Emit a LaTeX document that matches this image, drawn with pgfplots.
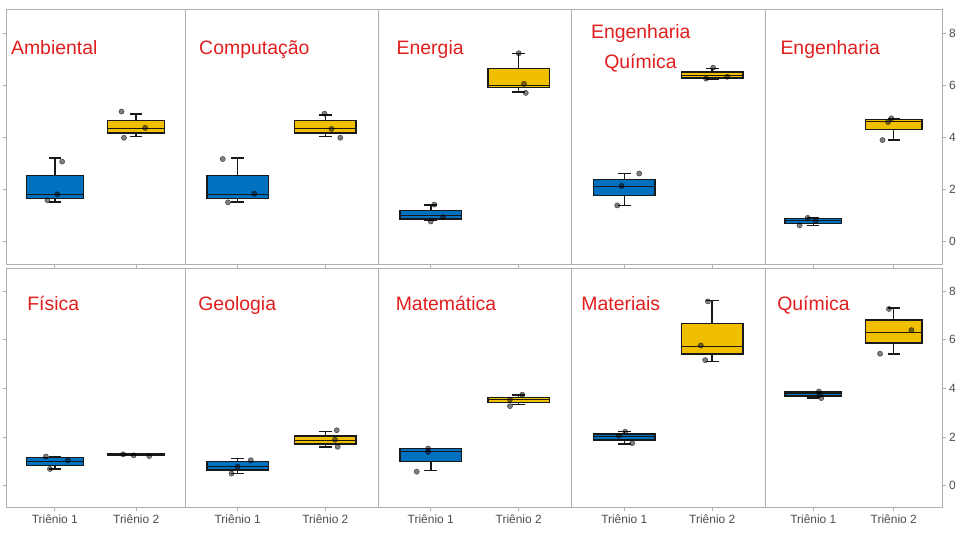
\documentclass[border=0pt]{standalone}
\usepackage{fontspec}
\setmainfont{Liberation Sans}
\usepackage{pgfplots}
\pgfplotsset{compat=1.18}
\usepgfplotslibrary{statistics}
\definecolor{tblue}{RGB}{0,112,192}
\definecolor{tyellow}{RGB}{240,192,0}
\definecolor{axgray}{RGB}{175,175,175}
\definecolor{lblgray}{RGB}{77,77,77}
\definecolor{titlered}{RGB}{225,30,30}
\definecolor{boxline}{RGB}{25,25,25}
\pgfplotsset{
  panel/.style={scale only axis, anchor=south west,
    xmin=0.4, xmax=2.6, ymin=-0.9, ymax=8.92,
    axis line style={draw=axgray, line width=1bp},
    tick style={draw=axgray, line width=0.8bp},
    major tick length=3.5bp, tick align=outside,
    xtick={1,2}, xticklabels={}, xtick pos=left,
    ytick=\empty,
    ticklabel style={font=\fontsize{12}{14}\selectfont, text=lblgray},
    /pgf/number format/assume math mode=true,
    boxplot/draw direction=y,
    boxplot/every box/.style={draw=boxline, line width=1.5bp},
    boxplot/every whisker/.style={draw=boxline, line width=1.5bp},
    boxplot/every median/.style={draw=boxline, line width=0.8bp},
  },
  toprow/.style={height=254.5bp, at={(#1,274.5bp)}},
  botrow/.style={height=239.2bp, at={(#1,31.3bp)}, xticklabels={Triênio 1,Triênio 2}},
  leftcol/.style={ytick={0,2,4,6,8}, yticklabels={}, ytick pos=left},
  rightcol/.style={ytick={0,2,4,6,8}, ytick pos=right, yticklabel pos=right},
  pts/.style={only marks, mark=*, mark size=2.6bp,
    mark options={fill=black, fill opacity=0.5, draw=black, draw opacity=0.6, line width=0.5bp}},
}
\newcommand{\bx}[7]{\addplot[boxplot prepared={draw direction=y, draw position=#1, lower whisker=#2, lower quartile=#3, median=#4, upper quartile=#5, upper whisker=#6, box extend=0.7, whisker extend=0.15}, draw=boxline, line width=1.5bp, fill=#7] coordinates {};}
\newcommand{\ttl}[3]{\node[anchor=base west, text=titlered, font=\fontsize{19.5}{22}\selectfont, inner sep=0pt] at (axis cs:#1,#2) {#3};}
\begin{document}
\begin{tikzpicture}[x=1bp,y=1bp]
\path[use as bounding box] (0,0) rectangle (960,539);
% ---------- top row ----------
\begin{axis}[panel, toprow=6bp, width=179bp, leftcol]
\bx{1}{1.51}{1.64}{1.82}{2.53}{3.20}{tblue}
\bx{2}{4.03}{4.17}{4.34}{4.65}{4.91}{tyellow}
\addplot[pts] coordinates {(1.09,3.07) (1.03,1.81) (0.91,1.58) (1.82,5.00) (2.11,4.37) (1.85,3.99)};
\ttl{0.46}{7.2}{Ambiental}
\end{axis}
\begin{axis}[panel, toprow=185bp, width=193bp]
\bx{1}{1.51}{1.64}{1.82}{2.53}{3.20}{tblue}
\bx{2}{4.03}{4.17}{4.34}{4.65}{4.87}{tyellow}
\addplot[pts] coordinates {(0.83,3.17) (1.19,1.83) (0.89,1.50) (1.99,4.92) (2.07,4.33) (2.17,3.99)};
\ttl{0.56}{7.2}{Computação}
\end{axis}
\begin{axis}[panel, toprow=378bp, width=193.5bp]
\bx{1}{0.79}{0.85}{1.01}{1.19}{1.40}{tblue}
\bx{2}{5.76}{5.92}{6.02}{6.66}{7.25}{tyellow}
\addplot[pts] coordinates {(1.04,1.41) (1.14,0.93) (1.00,0.76) (2.00,7.25) (2.06,6.07) (2.08,5.72)};
\ttl{0.61}{7.2}{Energia}
\end{axis}
\begin{axis}[panel, toprow=571.5bp, width=193.5bp]
\bx{1}{1.38}{1.76}{2.10}{2.38}{2.61}{tblue}
\bx{2}{6.24}{6.29}{6.40}{6.52}{6.66}{tyellow}
\addplot[pts] coordinates {(1.17,2.61) (0.97,2.13) (0.92,1.38) (2.01,6.69) (1.93,6.27) (2.17,6.34)};
\ttl{0.62}{7.83}{Engenharia}
\ttl{0.77}{6.67}{Química}
\end{axis}
\begin{axis}[panel, toprow=765bp, width=177bp, rightcol]
\bx{1}{0.61}{0.69}{0.79}{0.88}{0.90}{tblue}
\bx{2}{3.90}{4.30}{4.62}{4.69}{4.74}{tyellow}
\addplot[pts] coordinates {(0.93,0.90) (1.03,0.78) (0.83,0.61) (1.97,4.74) (1.93,4.60) (1.86,3.90)};
\ttl{0.59}{7.2}{Engenharia}
\end{axis}
% ---------- bottom row ----------
\begin{axis}[panel, botrow=6bp, width=179bp, leftcol]
\bx{1}{0.69}{0.84}{1.01}{1.16}{1.19}{tblue}
\bx{2}{1.25}{1.26}{1.28}{1.30}{1.31}{tyellow}
\addplot[pts] coordinates {(0.89,1.20) (1.16,1.05) (0.94,0.69) (1.84,1.29) (1.97,1.25) (2.16,1.22)};
\ttl{0.66}{7.2}{Física}
\end{axis}
\begin{axis}[panel, botrow=185bp, width=193bp]
\bx{1}{0.50}{0.64}{0.80}{1.00}{1.11}{tblue}
\bx{2}{1.60}{1.71}{1.87}{2.05}{2.22}{tyellow}
\addplot[pts] coordinates {(1.15,1.05) (1.00,0.78) (0.93,0.50) (2.13,2.28) (2.11,1.89) (2.14,1.60)};
\ttl{0.55}{7.2}{Geologia}
\end{axis}
\begin{axis}[panel, botrow=378bp, width=193.5bp]
\bx{1}{0.62}{1.00}{1.41}{1.52}{1.52}{tblue}
\bx{2}{3.33}{3.41}{3.53}{3.62}{3.72}{tyellow}
\addplot[pts] coordinates {(0.97,1.53) (0.97,1.39) (0.84,0.58) (2.04,3.74) (1.90,3.54) (1.90,3.27)};
\ttl{0.60}{7.2}{Matemática}
\end{axis}
\begin{axis}[panel, botrow=571.5bp, width=193.5bp]
\bx{1}{1.72}{1.87}{2.01}{2.13}{2.22}{tblue}
\bx{2}{5.11}{5.40}{5.73}{6.66}{7.61}{tyellow}
\addplot[pts] coordinates {(1.01,2.22) (0.94,2.06) (1.09,1.75) (1.95,7.57) (1.87,5.76) (1.92,5.16)};
\ttl{0.51}{7.2}{Materiais}
\end{axis}
\begin{axis}[panel, botrow=765bp, width=177bp, rightcol]
\bx{1}{3.60}{3.69}{3.78}{3.85}{3.88}{tblue}
\bx{2}{5.40}{5.87}{6.29}{6.80}{7.30}{tyellow}
\addplot[pts] coordinates {(1.07,3.87) (1.08,3.73) (1.10,3.60) (1.94,7.26) (2.22,6.39) (1.83,5.42)};
\ttl{0.55}{7.2}{Química}
\end{axis}
\end{tikzpicture}
\end{document}
